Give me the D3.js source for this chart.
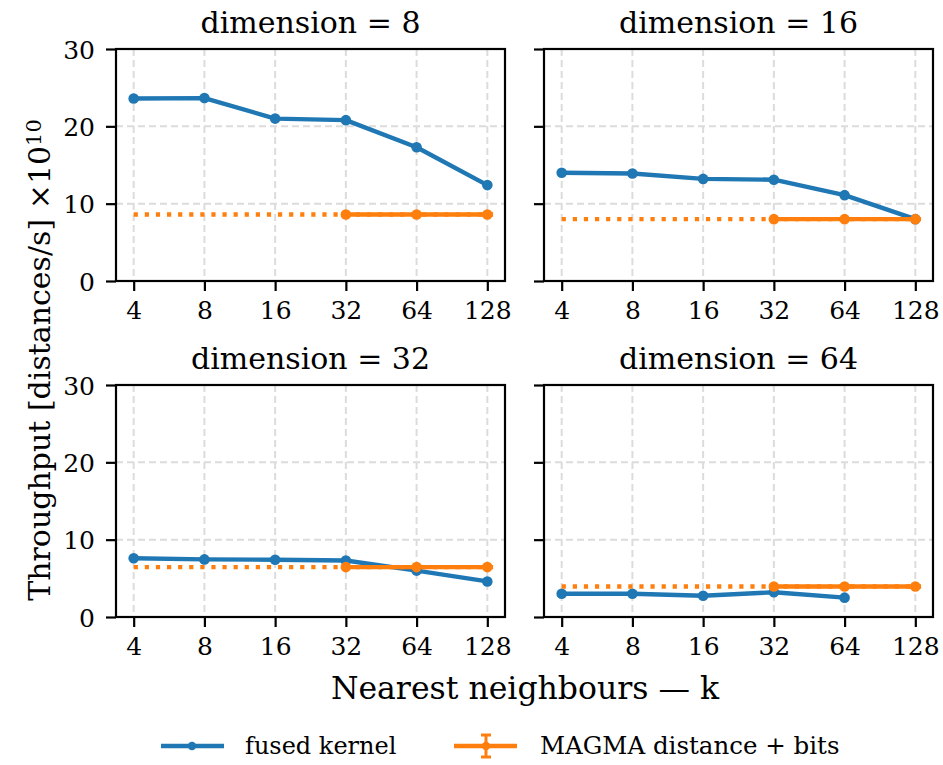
<!DOCTYPE html>
<html>
<head>
<meta charset="utf-8">
<script src="https://cdn.jsdelivr.net/npm/d3@7"></script>
<style>
  html, body { margin: 0; padding: 0; background: #fff; }
  svg { display: block; }
  text { font-family: "DejaVu Serif", serif; fill: #000; }
</style>
</head>
<body>
<svg id="chart" width="943" height="765"></svg>
<script>
// Nearest-neighbour counts on the x axis
const kValues = [4, 8, 16, 32, 64, 128];
const xTickLabels = ["4", "8", "16", "32", "64", "128"];
const yTicks = [0, 10, 20, 30];

// Panel titles (vector dimension)
const dimensions = [8, 16, 32, 64];

// Fused kernel throughput, in units of 1e10 distances/s (null = not measured)
const fusedDim8  = [23.6, 23.65, 21.0, 20.8, 17.3, 12.4];
const fusedDim16 = [14.0, 13.9, 13.2, 13.1, 11.1, 8.0];
const fusedDim32 = [7.6, 7.45, 7.4, 7.3, 6.0, 4.6];
const fusedDim64 = [3.0, 3.0, 2.75, 3.2, 2.5, null];

// MAGMA distance + bits throughput (measured only for k >= 32)
const magmaK = [32, 64, 128];
const magmaDim8  = [8.6, 8.6, 8.6];
const magmaDim16 = [8.0, 8.0, 8.0];
const magmaDim32 = [6.45, 6.45, 6.45];
const magmaDim64 = [3.95, 3.95, 3.95];

// k-range covered by the dotted MAGMA reference level
const magmaLevelSpan = [4, 138];

const fusedSeries = [fusedDim8, fusedDim16, fusedDim32, fusedDim64];
const magmaSeries = [magmaDim8, magmaDim16, magmaDim32, magmaDim64];

const BLUE = "#1f77b4", ORANGE = "#ff7f0e";
const LW = 4.4;
const TICK_FONT = "25px", LABEL_FONT = "30px", LEGEND_FONT = "24px";

const svg = d3.select("#chart");

// Panel frame geometry
const panelW = 389, panelH = 232;
const colLeft = [116, 544];
const rowTop = [49, 385];

const x = d3.scaleLog().base(2)
  .domain([4 / Math.pow(2, 0.25), 128 * Math.pow(2, 0.25)])
  .range([0, panelW]);
const y = d3.scaleLinear().domain([0, 30]).range([panelH, 0]);

const line = d3.line()
  .defined(d => d[1] !== null)
  .x(d => x(d[0]))
  .y(d => y(d[1]));

dimensions.forEach((dim, i) => {
  const col = i % 2, row = Math.floor(i / 2);
  const g = svg.append("g")
    .attr("transform", `translate(${colLeft[col]},${rowTop[row]})`);

  // grid
  const grid = g.append("g").attr("class", "grid");
  grid.selectAll("line.gx").data(kValues).join("line")
    .attr("x1", d => x(d)).attr("x2", d => x(d))
    .attr("y1", 0).attr("y2", panelH)
    .attr("stroke", "#dcdcdc").attr("stroke-width", 2)
    .attr("stroke-dasharray", "7,4");
  grid.selectAll("line.gy").data(yTicks.slice(1, -1)).join("line")
    .attr("x1", 0).attr("x2", panelW)
    .attr("y1", d => y(d)).attr("y2", d => y(d))
    .attr("stroke", "#dcdcdc").attr("stroke-width", 2)
    .attr("stroke-dasharray", "7,4");

  // fused kernel
  const fused = kValues.map((k, j) => [k, fusedSeries[i][j]]);
  g.append("path").datum(fused)
    .attr("d", line)
    .attr("fill", "none").attr("stroke", BLUE)
    .attr("stroke-width", LW).attr("stroke-linejoin", "round");
  g.selectAll("circle.fused").data(fused.filter(d => d[1] !== null)).join("circle")
    .attr("cx", d => x(d[0])).attr("cy", d => y(d[1]))
    .attr("r", 5.3).attr("fill", BLUE);

  // MAGMA: dotted reference level plus measured points
  const level = magmaSeries[i][0];
  g.append("line")
    .attr("x1", x(magmaLevelSpan[0])).attr("x2", x(magmaLevelSpan[1]))
    .attr("y1", y(level)).attr("y2", y(level))
    .attr("stroke", ORANGE).attr("stroke-width", LW)
    .attr("stroke-dasharray", "4.2,6.9");
  const magma = magmaK.map((k, j) => [k, magmaSeries[i][j]]);
  g.append("path").datum(magma)
    .attr("d", line)
    .attr("fill", "none").attr("stroke", ORANGE)
    .attr("stroke-width", LW);
  g.selectAll("circle.magma").data(magma).join("circle")
    .attr("cx", d => x(d[0])).attr("cy", d => y(d[1]))
    .attr("r", 5.3).attr("fill", ORANGE);

  // x axis
  const xa = g.append("g").attr("transform", `translate(0,${panelH})`)
    .call(d3.axisBottom(x).tickValues(kValues)
      .tickFormat((d, j) => xTickLabels[j]).tickSize(10).tickSizeOuter(0));
  xa.select(".domain").remove();
  xa.selectAll(".tick line").attr("stroke", "#000").attr("stroke-width", 2.2);
  xa.selectAll(".tick text").attr("y", 38).attr("dy", 0)
    .style("font-size", TICK_FONT).style("font-family", "DejaVu Serif, serif");

  // y axis
  const ya = g.append("g")
    .call(d3.axisLeft(y).tickValues(yTicks).tickSize(10).tickSizeOuter(0));
  ya.select(".domain").remove();
  ya.selectAll(".tick line").attr("stroke", "#000").attr("stroke-width", 2.2);
  if (col === 0) {
    ya.selectAll(".tick text").attr("x", -21).attr("dy", "0.36em")
      .style("font-size", TICK_FONT).style("font-family", "DejaVu Serif, serif");
  } else {
    ya.selectAll(".tick text").remove();
  }

  // frame
  g.append("rect").attr("width", panelW).attr("height", panelH)
    .attr("fill", "none").attr("stroke", "#000").attr("stroke-width", 2.2);

  // title
  g.append("text")
    .attr("x", panelW / 2).attr("y", -16)
    .attr("text-anchor", "middle")
    .style("font-size", LABEL_FONT)
    .text(`dimension = ${dim}`);
});

// x label
svg.append("text")
  .attr("x", 525).attr("y", 699)
  .attr("text-anchor", "middle")
  .style("font-size", "31.5px")
  .text("Nearest neighbours — k");

// y label
const yl = svg.append("text")
  .attr("transform", "translate(50,360) rotate(-90)")
  .attr("text-anchor", "middle")
  .style("font-size", LABEL_FONT);
yl.append("tspan").text("Throughput [distances/s] ×10");
yl.append("tspan").attr("dy", "-0.45em").style("font-size", "21px").text("10");

// legend
const leg = svg.append("g").attr("transform", "translate(0,746)");
leg.append("line").attr("x1", 161).attr("x2", 224).attr("y1", 0).attr("y2", 0)
  .attr("stroke", BLUE).attr("stroke-width", LW);
leg.append("circle").attr("cx", 192).attr("cy", 0).attr("r", 4.2).attr("fill", BLUE);
leg.append("text").attr("x", 245).attr("y", 0).attr("dy", "0.34em")
  .style("font-size", LEGEND_FONT).text("fused kernel");

leg.append("line").attr("x1", 454).attr("x2", 517).attr("y1", 0).attr("y2", 0)
  .attr("stroke", ORANGE).attr("stroke-width", LW);
leg.append("line").attr("x1", 486).attr("x2", 486).attr("y1", -11).attr("y2", 11)
  .attr("stroke", ORANGE).attr("stroke-width", 3);
leg.append("line").attr("x1", 481).attr("x2", 491).attr("y1", -11).attr("y2", -11)
  .attr("stroke", ORANGE).attr("stroke-width", 3);
leg.append("line").attr("x1", 481).attr("x2", 491).attr("y1", 11).attr("y2", 11)
  .attr("stroke", ORANGE).attr("stroke-width", 3);
leg.append("circle").attr("cx", 486).attr("cy", 0).attr("r", 4.2).attr("fill", ORANGE);
leg.append("text").attr("x", 540).attr("y", 0).attr("dy", "0.34em")
  .style("font-size", "24.5px").text("MAGMA distance + bits");
</script>
</body>
</html>
